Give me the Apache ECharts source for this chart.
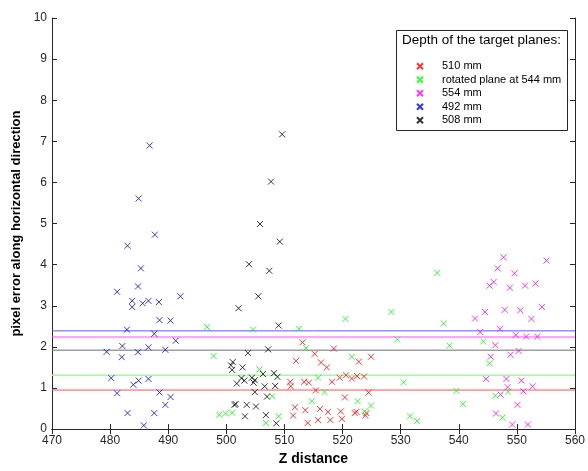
<!DOCTYPE html>
<html><head><meta charset="utf-8">
<script src="https://cdn.jsdelivr.net/npm/echarts@6/dist/echarts.min.js"></script>
<style>html,body{margin:0;padding:0;background:#fff}#c{width:588px;height:471px}</style>
</head><body><div id="c"></div>
<script>
// ---- data ----
var xTicks = [470,480,490,500,510,520,530,540,550,560];
var yTicks = [0,1,2,3,4,5,6,7,8,9,10];
var names = ['510 mm','rotated plane at 544 mm','554 mm','492 mm','508 mm'];
var colors = ['#ff0000','#00ff00','#ff00ff','#0000ff','#000000'];
var lineColors = ['#ff5050','#9cff9c','#ff4cff','#5a5aff','#707070'];
var means = [0.95, 1.31, 2.24, 2.39, 1.92];

var red = [[513.1,2.11],[515.2,1.83],[512.0,1.66],[516.3,1.62],[517.3,1.50],[511.0,1.15],[511.1,1.04],[513.4,1.15],[514.2,1.13],[515.4,0.94],[511.8,0.53],[513.6,0.46],[516.1,0.49],[511.5,0.33],[514.0,0.15],[515.8,0.22],[517.5,0.42],[518.5,1.96],[524.9,1.76],[522.8,1.64],[518.2,1.15],[519.5,1.25],[520.6,1.31],[521.6,1.23],[522.5,1.29],[523.7,1.28],[524.5,0.89],[520.4,0.77],[519.7,0.43],[522.1,0.39],[522.4,0.42],[524.1,0.39],[523.9,0.33],[517.9,0.22],[519.9,0.25]];
var green = [[496.7,2.48],[504.6,2.42],[512.5,2.44],[513.7,1.97],[497.8,1.78],[505.7,1.45],[515.8,1.25],[516.9,0.90],[507.9,0.80],[514.7,0.68],[498.8,0.35],[499.9,0.38],[501.0,0.40],[509.0,0.31],[506.8,0.15],[528.4,2.85],[520.5,2.68],[529.4,2.18],[521.6,1.76],[522.6,0.68],[524.9,0.57],[523.8,0.43],[536.3,3.80],[537.4,2.57],[538.4,2.03],[544.2,2.13],[545.3,1.60],[530.5,1.14],[539.6,0.93],[540.7,0.61],[546.3,0.81],[531.6,0.31],[532.8,0.20],[548.5,0.91],[547.5,0.28]];
var magenta = [[546.7,3.91],[546.0,3.58],[545.3,3.49],[544.5,2.85],[542.8,2.69],[543.7,2.36],[546.3,2.04],[545.5,1.76],[544.7,1.22],[546.4,0.38],[547.7,4.18],[555.1,4.10],[549.6,3.79],[548.8,3.44],[551.4,3.49],[553.2,3.54],[547.9,2.90],[550.6,2.89],[554.3,2.97],[552.5,2.68],[547.1,2.44],[549.8,2.29],[551.6,2.25],[553.5,2.25],[550.3,1.90],[548.9,1.81],[548.2,1.22],[550.8,1.18],[548.4,1.02],[552.7,1.04],[551.1,0.92],[547.2,0.84],[550.1,0.59],[549.2,0.11],[551.9,0.11]];
var blue = [[486.8,6.90],[484.9,5.61],[487.7,4.73],[483.0,4.46],[485.3,3.91],[484.8,3.47],[481.2,3.34],[483.8,3.12],[483.8,2.97],[485.6,3.06],[486.6,3.12],[488.4,3.09],[492.1,3.23],[488.5,2.65],[490.4,2.64],[482.9,2.42],[487.6,2.32],[491.3,2.15],[482.1,2.02],[479.4,1.88],[484.8,1.87],[486.6,1.99],[489.5,1.93],[482.0,1.75],[480.2,1.24],[484.0,1.08],[484.9,1.18],[486.6,1.22],[481.2,0.87],[488.5,0.89],[490.4,0.78],[489.5,0.59],[483.0,0.39],[487.6,0.39],[485.8,0.09]];
var black = [[509.6,7.17],[507.7,6.02],[505.8,4.99],[509.2,4.56],[503.9,4.01],[507.4,3.85],[505.5,3.23],[502.1,2.94],[509.0,2.52],[503.7,1.85],[507.2,1.94],[501.1,1.63],[500.8,1.55],[501.0,1.44],[502.8,1.50],[506.3,1.34],[508.2,1.36],[508.8,1.27],[502.6,1.24],[503.1,1.18],[501.8,1.11],[504.4,1.25],[504.9,1.19],[504.7,1.13],[506.6,1.04],[508.4,1.05],[504.9,0.90],[507.0,0.79],[501.6,0.61],[501.4,0.59],[503.5,0.59],[505.1,0.55],[503.2,0.31],[506.8,0.34],[508.6,0.14]];

var groups = [red, green, magenta, blue, black];
var X_MIN = xTicks[0], X_MAX = xTicks[xTicks.length-1];
var Y_MIN = yTicks[0], Y_MAX = yTicks[yTicks.length-1];

// ---- chart ----
var FONT = '"Liberation Sans", Arial, Helvetica, sans-serif';
var AX = '#262626';
var CROSS = 'path://M0,0L10,10M10,0L0,10';
var chart = echarts.init(document.getElementById('c'), null, {renderer:'canvas'});

var series = [];
means.forEach(function(m, i){
  series.push({
    type:'line', name:'mean'+i, xAxisIndex:0, yAxisIndex:0,
    data:[[X_MIN, m],[X_MAX, m]], symbol:'none', silent:true,
    lineStyle:{color:lineColors[i], width: i===1 ? 1.6 : 1}, z:2
  });
});
groups.forEach(function(g, i){
  series.push({
    type:'scatter', name:names[i], xAxisIndex:0, yAxisIndex:0,
    data:g, symbol:CROSS, symbolSize:6,
    itemStyle:{color:'rgba(0,0,0,0)', borderColor:colors[i], borderWidth:1, opacity:0.8},
    z:3
  });
});

var baseAxis = {
  axisLine:{show:true, lineStyle:{color:AX, width:1}},
  axisTick:{show:true, inside:true, length:5, lineStyle:{color:AX}},
  splitLine:{show:false},
  axisLabel:{color:AX, fontFamily:FONT, fontSize:12}
};

var option = {
  backgroundColor:'#fff',
  animation:false,
  grid:{left:52, right:11, top:18, bottom:38, containLabel:false},
  xAxis:[
    Object.assign({}, baseAxis, {type:'value', min:X_MIN, max:X_MAX, interval:10, position:'bottom',
      name:'Z distance', nameLocation:'middle', nameGap:20,
      nameTextStyle:{fontFamily:FONT, fontSize:14, fontWeight:'bold', color:'#000'},
      axisLabel:{color:AX, fontFamily:FONT, fontSize:12, margin:6}}),
    Object.assign({}, baseAxis, {type:'value', min:X_MIN, max:X_MAX, interval:10, position:'top',
      axisLabel:{show:false}})
  ],
  yAxis:[
    Object.assign({}, baseAxis, {type:'value', min:Y_MIN, max:Y_MAX, interval:1, position:'left',
      name:'pixel error along horizontal direction', nameLocation:'middle', nameGap:29,
      nameTextStyle:{fontFamily:FONT, fontSize:13, fontWeight:'bold', color:'#000'},
      axisLabel:{color:AX, fontFamily:FONT, fontSize:12, margin:5}}),
    Object.assign({}, baseAxis, {type:'value', min:Y_MIN, max:Y_MAX, interval:1, position:'right',
      axisLabel:{show:false}})
  ],
  legend:{
    data:names, orient:'vertical', left:416, top:59.5, z:5,
    itemWidth:6, itemHeight:6, itemGap:0, padding:0,
    icon:CROSS,
    textStyle:{fontFamily:FONT, fontSize:11, color:'#000', lineHeight:13.5, height:13.5, padding:[0,0,0,14]}
  },
  graphic:[
    {type:'rect', left:396, top:30, shape:{width:171, height:100}, z:4,
      style:{fill:'#fff', stroke:AX, lineWidth:1}},
    {type:'text', left:402, top:33, z:6,
      style:{text:'Depth of the target planes:', font:'13.5px '+FONT, fill:'#000'}}
  ],
  series:series
};
chart.setOption(option);
</script>
</body></html>
